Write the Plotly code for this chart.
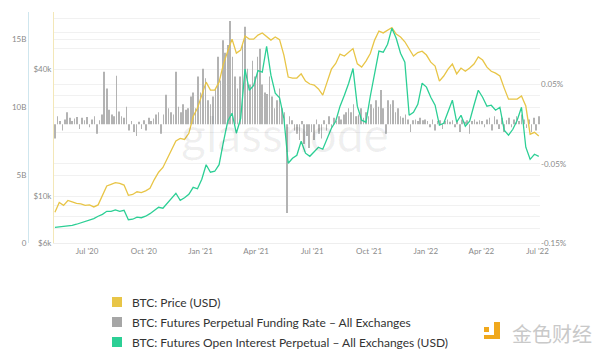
import pandas as pd
import plotly.graph_objects as go

# ---------------- data ----------------
price_start = "2020-05-10"          # weekly points
price_usd = [8400, 9350, 9050, 9550, 9400, 9250, 9200, 9050, 9100, 8900,
             9100, 10100, 11200, 11400, 11600, 11500, 11300, 10100, 10200, 10500,
             10400, 10600, 10900, 12000, 13000, 13700, 15100, 16500, 18300, 18800,
             18600, 19900, 23900, 26200, 30000, 34800, 31900, 31900, 34800, 42400,
             48800, 55700, 47800, 49400, 57600, 55700, 55700, 58200, 59600, 57000,
             55100, 57000, 55400, 46800, 36800, 36400, 36400, 38100, 35200, 34100,
             33700, 32300, 30200, 34800, 40100, 42700, 47300, 46300, 48300, 50200,
             42500, 41000, 43800, 47600, 55100, 60800, 59600, 61500, 63200, 58800,
             57000, 54100, 50000, 46300, 48100, 48800, 46800, 43300, 41500, 35200,
             37200, 40100, 42400, 38100, 40600, 39200, 40600, 42400, 45800, 44300,
             41000, 39200, 38400, 37200, 32600, 28900, 28900, 28900, 29900, 26800,
             19700, 20100, 19300]

open_interest_bn = [1.15, 1.18, 1.23, 1.27, 1.30, 1.38, 1.49, 1.56, 1.67, 1.80,
                    1.97, 2.11, 2.33, 2.33, 2.44, 2.33, 2.41, 1.71, 1.75, 1.91,
                    1.86, 1.97, 2.16, 2.37, 2.63, 2.56, 2.92, 3.22, 3.66, 3.14,
                    3.33, 3.59, 4.10, 3.99, 4.69, 5.76, 5.21, 5.28, 5.76, 7.42,
                    8.96, 9.55, 8.08, 9.18, 12.8, 11.24, 11.6, 12.68, 12.57, 14.48,
                    12.35, 11.02, 10.69, 9.18, 5.87, 6.24, 6.46, 7.49, 6.61, 6.38,
                    6.68, 7.05, 6.90, 7.71, 8.45, 8.96, 10.07, 10.88, 11.76, 12.84,
                    10.07, 9.04, 8.89, 10.80, 12.57, 14.12, 14.04, 14.63, 15.81, 15.07,
                    13.97, 13.31, 9.40, 9.62, 10.21, 11.76, 11.47, 10.73, 10.14, 8.67,
                    8.81, 9.62, 10.51, 8.89, 9.40, 8.59, 8.96, 10.14, 11.24, 10.73,
                    10.07, 10.14, 9.77, 9.99, 8.30, 7.93, 8.37, 9.04, 9.99, 7.05,
                    6.16, 6.53, 6.38]

funding_start = "2020-05-10"        # one value every 4 days
funding_pct = [-0.018, 0.010, 0.004, -0.008, 0.006, 0.015, 0.008, 0.004, 0.007, 0.009,
               -0.006, 0.008, 0.005, 0.009, -0.004, 0.006, 0.010, -0.012, 0.005, 0.012,
               0.066, 0.045, 0.018, 0.012, 0.010, 0.061, 0.016, 0.010, 0.008, 0.022,
               -0.008, 0.004, -0.010, -0.015, 0.003, -0.006, 0.005, -0.008, 0.008, 0.004,
               0.007, 0.012, 0.015, -0.012, 0.012, 0.037, 0.020, 0.015, 0.012, 0.066,
               0.022, 0.015, 0.025, 0.018, 0.020, 0.035, 0.040, 0.020, 0.060, 0.040,
               0.070, 0.058, 0.030, 0.025, 0.035, 0.045, 0.085, 0.055, 0.106, 0.090,
               0.100, 0.130, 0.085, 0.060, 0.045, 0.060, 0.100, 0.123, 0.070, 0.050,
               0.080, 0.060, 0.085, 0.095, 0.050, 0.040, 0.038, 0.060, 0.035, 0.020,
               0.030, 0.045, 0.020, 0.015, -0.112, 0.010, 0.005, -0.008, -0.012, -0.020,
               0.004, -0.025, -0.015, -0.030, -0.010, -0.020, 0.006, -0.012, -0.018, 0.005,
               -0.008, 0.010, -0.005, 0.008, 0.004, 0.010, 0.006, 0.012, 0.015, 0.020,
               0.015, 0.025, 0.010, 0.012, 0.020, 0.008, 0.015, 0.010, 0.025, 0.020,
               0.030, 0.022, 0.043, 0.020, -0.012, 0.030, 0.025, 0.030, 0.015, 0.020,
               0.010, 0.008, 0.012, 0.006, -0.010, 0.005, 0.006, 0.004, 0.008, 0.005,
               0.006, 0.004, -0.004, 0.006, -0.008, 0.004, 0.005, -0.006, 0.004, 0.006,
               0.003, 0.005, -0.004, 0.004, -0.010, 0.006, 0.003, 0.005, -0.012, 0.004,
               0.006, 0.003, 0.005, 0.004, -0.004, 0.006, 0.008, -0.008, 0.010, 0.006,
               -0.006, 0.008, -0.010, 0.005, 0.008, -0.004, 0.006, 0.010, 0.004, 0.012,
               0.006, -0.005, 0.006, -0.010, 0.008, -0.008, 0.010]

x_tick_dates = ["2020-07-01", "2020-10-01", "2021-01-01", "2021-04-01", "2021-07-01",
                "2021-10-01", "2022-01-01", "2022-04-01", "2022-07-01"]
x_tick_labels = ["Jul '20", "Oct '20", "Jan '21", "Apr '21", "Jul '21",
                 "Oct '21", "Jan '22", "Apr '22", "Jul '22"]
price_ticks = [6000, 10000, 40000]
price_tick_labels = ["$6k", "$10k", "$40k"]
price_minor = [7000, 8000, 9000, 20000, 30000, 50000, 60000, 70000]
oi_ticks = [0, 5e9, 10e9, 15e9]
oi_tick_labels = ["0", "5B", "10B", "15B"]
fr_ticks = [-0.15, -0.05, 0.05]
fr_tick_labels = ["-0.15%", "-0.05%", "0.05%"]

names = ["BTC: Price (USD)",
         "BTC: Futures Perpetual Funding Rate – All Exchanges",
         "BTC: Futures Open Interest Perpetual – All Exchanges (USD)"]
colors = ["#e8c547", "#a6a6a6", "#2ccf95"]
bar_color = "#b3b3b3"

# ---------------- build ----------------
price_dates = pd.date_range(price_start, periods=len(price_usd), freq="7D")
oi_dates = pd.date_range(price_start, periods=len(open_interest_bn), freq="7D")
fr_dates = pd.date_range(funding_start, periods=len(funding_pct), freq="4D")
oi_usd = [v * 1e9 for v in open_interest_bn]

OFF = 8                      # page body margin in the browser
W, H = 592, 349
ML, MR, MT, MB = 12, 60, 4, 114
PW = W - ML - MR
PH = H - MT - MB


def px_x(px):                # screen pixel -> paper x
    return (px - OFF - ML) / PW


def px_y(py):                # screen pixel -> paper y
    return (H - MB - (py - OFF)) / PH


fig = go.Figure()

fig.add_trace(go.Bar(x=fr_dates, y=funding_pct, yaxis="y", marker_color=bar_color,
                     marker_line_width=0, width=1.0 * 86400000, showlegend=False,
                     name=names[1]))
fig.add_trace(go.Scatter(x=price_dates, y=price_usd, yaxis="y2", mode="lines",
                         line=dict(color=colors[0], width=1.3), showlegend=False,
                         name=names[0]))
fig.add_trace(go.Scatter(x=oi_dates, y=oi_usd, yaxis="y3", mode="lines",
                         line=dict(color=colors[2], width=1.3), showlegend=False,
                         name=names[2]))

tickfont = dict(family="Lato, Open Sans, sans-serif", size=8, color="#8a8a8a")
grid = "#f1f1f1"

annotations = [
    dict(text="glassnode", xref="paper", yref="paper", x=px_x(285), y=px_y(133),
         xanchor="center", yanchor="middle",
         showarrow=False, font=dict(size=48, color="rgba(0,0,0,0.06)",
                                    family="Lato, sans-serif")),
    dict(text="金色财经", xref="paper", yref="paper", x=px_x(510), y=px_y(333),
         xanchor="left", yanchor="middle",
         showarrow=False, font=dict(size=20, color="#c9c9c9",
                                    family="Noto Sans CJK SC")),
]
shapes = [
    dict(type="rect", xref="paper", yref="paper", x0=px_x(484), x1=px_x(489),
         y0=px_y(332), y1=px_y(327), fillcolor="#f0a81c", line_width=0),
    dict(type="rect", xref="paper", yref="paper", x0=px_x(494), x1=px_x(500),
         y0=px_y(339), y1=px_y(322), fillcolor="#f0a81c", line_width=0),
    dict(type="rect", xref="paper", yref="paper", x0=px_x(484), x1=px_x(500),
         y0=px_y(339), y1=px_y(335), fillcolor="#f0a81c", line_width=0),
]
# legend: square swatches + labels
legend_rows = [302, 322, 342]
for nm, c, ry in zip(names, colors, legend_rows):
    shapes.append(dict(type="rect", xref="paper", yref="paper",
                       x0=px_x(112), x1=px_x(122), y0=px_y(ry + 5), y1=px_y(ry - 5),
                       fillcolor=c, line_width=0))
    annotations.append(dict(text=nm, xref="paper", yref="paper", x=px_x(130),
                            y=px_y(ry), xanchor="left", yanchor="middle",
                            showarrow=False,
                            font=dict(size=12, color="#333",
                                      family="Lato, Open Sans, sans-serif")))

fig.update_layout(
    width=W, height=H,
    margin=dict(l=ML, r=MR, t=MT, b=MB, autoexpand=False),
    paper_bgcolor="white", plot_bgcolor="white",
    font=dict(family="Lato, Open Sans, sans-serif", color="#333"),
    showlegend=False,
    xaxis=dict(type="date", domain=[px_x(54), 1],
               range=["2020-05-08 12:00", "2022-07-05"],
               tickvals=x_tick_dates, ticktext=x_tick_labels,
               tickfont=tickfont, showgrid=False, showline=True,
               linecolor="#eeeeee", linewidth=1, ticks="", zeroline=False),
    yaxis=dict(side="right", range=[-0.15, 0.1415], tickvals=fr_ticks,
               ticktext=fr_tick_labels, tickfont=tickfont, showgrid=True,
               gridcolor=grid, zeroline=False, showline=False, ticks="",
               automargin=False),
    yaxis2=dict(overlaying="y", side="left", anchor="x", type="log",
                range=[3.77815, 4.8745], tickvals=price_ticks,
                ticktext=price_tick_labels, tickfont=tickfont,
                showgrid=True, gridcolor=grid,
                minor=dict(tickvals=price_minor, showgrid=True, gridcolor=grid,
                           ticks=""),
                showline=True, linecolor="#f3e7b8", linewidth=1,
                zeroline=False, ticks="", automargin=False),
    yaxis3=dict(overlaying="y", side="left", anchor="free", position=px_x(28),
                range=[0, 17e9], tickvals=oi_ticks, ticktext=oi_tick_labels,
                tickfont=tickfont, showgrid=True, gridcolor=grid,
                showline=True, linecolor="#cfe6ee", linewidth=1,
                zeroline=False, ticks="", automargin=False),
    annotations=annotations,
    shapes=shapes,
)

fig.write_html("out.html")
